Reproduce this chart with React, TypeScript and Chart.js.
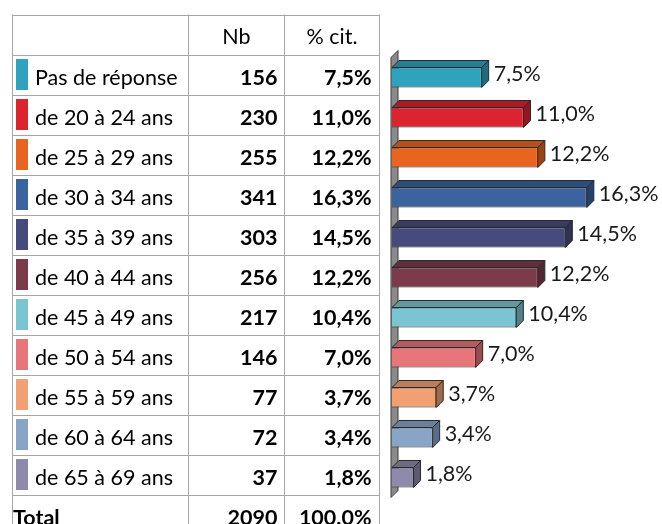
import React, { useEffect, useRef } from "react";
import { Chart, registerables } from "chart.js";

Chart.register(...registerables);

const categories = [
  "Pas de réponse",
  "de 20 à 24 ans",
  "de 25 à 29 ans",
  "de 30 à 34 ans",
  "de 35 à 39 ans",
  "de 40 à 44 ans",
  "de 45 à 49 ans",
  "de 50 à 54 ans",
  "de 55 à 59 ans",
  "de 60 à 64 ans",
  "de 65 à 69 ans",
];
const counts = [156, 230, 255, 341, 303, 256, 217, 146, 77, 72, 37];
const percents = [7.5, 11.0, 12.2, 16.3, 14.5, 12.2, 10.4, 7.0, 3.7, 3.4, 1.8];
const colors = [
  "#2ea3bf",
  "#dc2330",
  "#e9651f",
  "#3a63a0",
  "#474a7c",
  "#7b3b4b",
  "#7ac5d1",
  "#e8757a",
  "#f2a072",
  "#88a5c8",
  "#8d8aab",
];
const headerNb = "Nb";
const headerPct = "% cit.";
const totalLabel = "Total";
const totalCount = "2090";
const totalPercent = "100.0%";

const FONT = "Lato, 'Open Sans', sans-serif";
const FS = 21.5;
const DEPTH = 7;

function shade(hex: string, f: number): string {
  const n = parseInt(hex.slice(1), 16);
  const r = Math.round(((n >> 16) & 255) * f);
  const g = Math.round(((n >> 8) & 255) * f);
  const b = Math.round((n & 255) * f);
  return `rgb(${r},${g},${b})`;
}

function fmtPct(v: number): string {
  return v.toFixed(1).replace(".", ",") + "%";
}

const plugin3d = {
  id: "plugin3d",
  beforeDatasetsDraw(chart: any) {
    const { ctx, chartArea } = chart;
    const L = chartArea.left;
    const T = chartArea.top;
    const B = chartArea.bottom;
    ctx.save();
    ctx.beginPath();
    ctx.moveTo(L - 1, B);
    ctx.lineTo(L - 1, T);
    ctx.lineTo(L - 1 + DEPTH, T - DEPTH);
    ctx.lineTo(L - 1 + DEPTH, B - DEPTH);
    ctx.closePath();
    ctx.fillStyle = "#8a8a8a";
    ctx.fill();
    ctx.strokeStyle = "#3c3c3c";
    ctx.lineWidth = 1;
    ctx.stroke();
    ctx.restore();
  },
  afterDatasetsDraw(chart: any) {
    const { ctx } = chart;
    const meta = chart.getDatasetMeta(0);
    ctx.save();
    ctx.lineWidth = 1;
    ctx.strokeStyle = "#2a2a2a";
    meta.data.forEach((el: any, i: number) => {
      const p = el.getProps(["x", "y", "base", "height"], true);
      const top = p.y - p.height / 2;
      const bottom = p.y + p.height / 2;
      const x0 = p.base;
      const x1 = p.x;
      // top face
      ctx.beginPath();
      ctx.moveTo(x0, top);
      ctx.lineTo(x1, top);
      ctx.lineTo(x1 + DEPTH, top - DEPTH);
      ctx.lineTo(x0 + DEPTH, top - DEPTH);
      ctx.closePath();
      ctx.fillStyle = shade(colors[i], 0.78);
      ctx.fill();
      ctx.stroke();
      // side face
      ctx.beginPath();
      ctx.moveTo(x1, top);
      ctx.lineTo(x1 + DEPTH, top - DEPTH);
      ctx.lineTo(x1 + DEPTH, bottom - DEPTH);
      ctx.lineTo(x1, bottom);
      ctx.closePath();
      ctx.fillStyle = shade(colors[i], 0.66);
      ctx.fill();
      ctx.stroke();
      // label
      ctx.fillStyle = "#1a1a1a";
      ctx.font = `${FS}px ${FONT}`;
      ctx.textAlign = "left";
      ctx.textBaseline = "alphabetic";
      ctx.fillText(fmtPct(percents[i]), x1 + DEPTH + 5, p.y + 3);
    });
    ctx.restore();
  },
  afterDraw(chart: any) {
    const { ctx } = chart;
    const yScale = chart.scales.y;
    const colX = [12.5, 188.5, 284.5, 379.5];
    const rowH = 40;
    const rowCenter = (i: number) => yScale.getPixelForValue(i) - 3;
    const n = categories.length;
    const firstTop = rowCenter(0) - rowH / 2 - rowH;
    const lastBottom = rowCenter(n - 1) + rowH / 2 + rowH;
    ctx.save();
    // lines
    ctx.strokeStyle = "#a6a6a6";
    ctx.lineWidth = 1;
    ctx.beginPath();
    for (let k = 0; k <= n + 2; k++) {
      const y = Math.round(firstTop + k * rowH) + 0.5;
      ctx.moveTo(colX[0], y);
      ctx.lineTo(colX[3], y);
    }
    colX.forEach((x) => {
      ctx.moveTo(x, firstTop);
      ctx.lineTo(x, lastBottom);
    });
    ctx.stroke();

    ctx.fillStyle = "#000";
    ctx.textBaseline = "alphabetic";
    // header
    const hc = rowCenter(0) - rowH;
    ctx.font = `${FS}px ${FONT}`;
    ctx.textAlign = "center";
    ctx.fillText(headerNb, (colX[1] + colX[2]) / 2, hc + 9);
    ctx.fillText(headerPct, (colX[2] + colX[3]) / 2, hc + 9);
    // rows
    categories.forEach((cat, i) => {
      const c = rowCenter(i);
      ctx.fillStyle = colors[i];
      ctx.fillRect(16, c - 15.5, 12, 31);
      ctx.fillStyle = "#000";
      ctx.font = `${FS}px ${FONT}`;
      ctx.textAlign = "left";
      ctx.fillText(cat, 35, c + 10.5);
      ctx.font = `bold ${FS}px ${FONT}`;
      ctx.textAlign = "right";
      ctx.fillText(String(counts[i]), colX[2] - 7, c + 10.5);
      ctx.fillText(fmtPct(percents[i]), colX[3] - 8, c + 10.5);
    });
    // total
    const tc = rowCenter(n - 1) + rowH;
    ctx.font = `bold ${FS}px ${FONT}`;
    ctx.textAlign = "left";
    ctx.fillText(totalLabel, 13, tc + 10.5);
    ctx.textAlign = "right";
    ctx.fillText(totalCount, colX[2] - 7, tc + 10.5);
    ctx.fillText(totalPercent, colX[3] - 8, tc + 10.5);
    ctx.restore();
  },
};

export default function App() {
  const ref = useRef<HTMLCanvasElement | null>(null);
  useEffect(() => {
    if (!ref.current) return;
    const chart = new Chart(ref.current, {
      type: "bar",
      data: {
        labels: categories,
        datasets: [
          {
            data: percents,
            backgroundColor: colors,
            borderColor: "#2a2a2a",
            borderWidth: 1,
            categoryPercentage: 1,
            barPercentage: 0.5,
          },
        ],
      },
      options: {
        indexAxis: "y",
        responsive: false,
        animation: false,
        layout: { padding: { left: 392, right: 7, top: 57.5, bottom: 26.5 } },
        plugins: {
          legend: { display: false },
          tooltip: { enabled: false },
        },
        scales: {
          x: { display: false, min: 0, max: 22 },
          y: { display: false, offset: true },
        },
      },
      plugins: [plugin3d],
    } as any);
    return () => chart.destroy();
  }, []);
  return (
    <div style={{ position: "fixed", left: 0, top: 0, width: 662, height: 524, background: "#fff" }}>
      <canvas ref={ref} width={662} height={524} style={{ display: "block" }} />
    </div>
  );
}
